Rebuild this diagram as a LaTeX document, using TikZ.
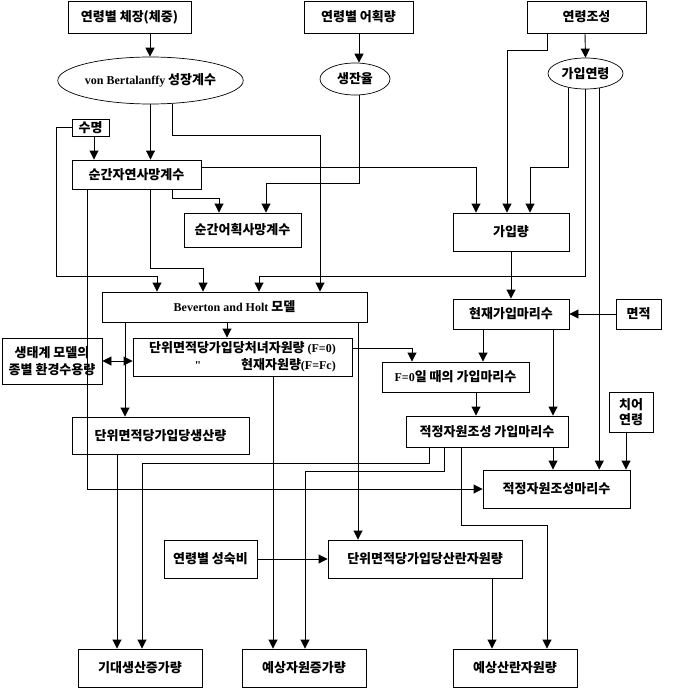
\documentclass[tikz,border=0pt]{standalone}
\usepackage{fontspec}
\setmainfont{Noto Sans CJK KR}
\newfontfamily\latfont{Liberation Serif}
\usetikzlibrary{arrows.meta,shapes.geometric}
\newcommand\kfont{\fontsize{13pt}{16pt}\selectfont\bfseries}
\newcommand\latx[1]{{\latfont\bfseries\fontsize{12pt}{14pt}\selectfont #1}}
\begin{document}
\begin{tikzpicture}[x=1pt,y=-1pt,
  box/.style={draw,line width=0.9pt,inner sep=0pt,align=center,font=\kfont},
  ell/.style={draw,ellipse,line width=0.7pt,inner sep=0pt,font=\kfont},
  arr/.style={line width=0.9pt,-{Triangle[width=9pt,length=9pt]}},
  darr/.style={line width=0.9pt,{Triangle[width=9pt,length=9pt]}-{Triangle[width=9pt,length=9pt]}}]
\useasboundingbox[fill=white] (0,0) rectangle (672,690);

% top row
\node[box,minimum width=123pt,minimum height=32pt] (n1) at (129.5,17) {연령별 체장(체중)};
\node[box,minimum width=109pt,minimum height=32pt] (n2) at (358.5,17) {연령별 어획량};
\node[box,minimum width=119pt,minimum height=32pt] (n3) at (586.5,17) {연령조성};
% ellipses
\node[ell,minimum width=165pt,minimum height=47pt] (e1) at (150.5,80.5) {\latx{von Bertalanffy} 성장계수};
\node[ell,minimum width=70pt,minimum height=32pt] (e2) at (355,79) {생잔율};
\node[ell,minimum width=75pt,minimum height=31pt] (e3) at (585.5,73.5) {가입연령};
% boxes
\node[box,minimum width=37pt,minimum height=17pt] (sm) at (90.5,127.5) {수명};
\node[box,minimum width=129pt,minimum height=29pt] (snj) at (136.5,174.5) {순간자연사망계수};
\node[box,minimum width=117pt,minimum height=34pt] (sne) at (242.5,230) {순간어획사망계수};
\node[box,minimum width=116pt,minimum height=38pt] (gaib) at (511,232) {가입량};
\node[box,minimum width=265pt,minimum height=30pt] (bh) at (234.5,307) {\latx{Beverton and Holt} 모델};
\node[box,minimum width=116pt,minimum height=30pt] (hj) at (511,314) {현재가입마리수};
\node[box,minimum width=45pt,minimum height=30pt] (mj) at (638.5,314) {면적};
\node[box,minimum width=219pt,minimum height=38pt,align=right,font=\fontsize{13pt}{17pt}\selectfont\bfseries] (cn) at (242.5,357)
  {단위면적당가입당처녀자원량 \latx{(F=0)}\\\latx{"}\hspace{40pt}현재자원량\latx{(F=Fc)}};
\node[box,minimum width=100pt,minimum height=46pt,font=\fontsize{13pt}{17pt}\selectfont\bfseries] (st) at (52,361) {생태계 모델의\\종별 환경수용량};
\node[box,minimum width=177pt,minimum height=37pt] (ss) at (160.5,435.5) {단위면적당가입당생산량};
\node[box,minimum width=147pt,minimum height=30pt] (f0) at (455.5,377) {\latx{F=0}일 때의 가입마리수};
\node[box,minimum width=162pt,minimum height=31pt] (jg) at (487,431.5) {적정자원조성 가입마리수};
\node[box,minimum width=44pt,minimum height=40pt,font=\fontsize{13pt}{15pt}\selectfont\bfseries] (cy) at (631,412) {치어\\연령};
\node[box,minimum width=147pt,minimum height=38pt] (jm) at (556.5,489) {적정자원조성마리수};
\node[box,minimum width=93pt,minimum height=38pt] (sb) at (210.5,559) {연령별 성숙비};
\node[box,minimum width=194pt,minimum height=38pt] (sr) at (425,559) {단위면적당가입당산란자원량};
\node[box,minimum width=124pt,minimum height=38pt] (gd) at (140,668) {기대생산증가량};
\node[box,minimum width=124pt,minimum height=38pt] (yj) at (304,668) {예상자원증가량};
\node[box,minimum width=124pt,minimum height=38pt] (ys) at (515,668) {예상산란자원량};

% connectors
\draw[arr] (n1.south -| 150,0) -- (e1.north -| 150,0);
\draw[arr] (n2.south -| 359,0) -- (e2.north -| 359,0);
\draw[arr] (n3.south -| 585,0) -- (e3.north);
\draw[arr] (n3.south -| 547,0) |- (507,50) -- (gaib.north -| 507,0);
\draw[arr] (e3.220) |- (530,167) -- (gaib.north -| 530,0);
\draw[arr] (e3.south) |- (259,276) -- (bh.north -| 259,0);
\draw[arr] (e3.313) -- (jm.north -| e3.313);
\draw[arr] (e1.south) -- (snj.north -| e1.south);
\draw[arr] (e1.313.45) |- (320,135) -- (bh.north -| 320,0);
\draw[arr] (e2.south -| 359,0) |- (266,183) -- (sne.north -| 266,0);
\draw[arr] (sm.south -| 94,0) -- (snj.north -| 94,0);
\draw[arr] (sm.west) -| (56,276) -| (bh.north -| 157,0);
\draw[arr] (snj.east |- 0,167) -| (gaib.north -| 476,0);
\draw[arr] (snj.south -| 172,0) |- (219,198) -- (sne.north -| 219,0);
\draw[arr] (snj.south -| 150,0) |- (203,268) -- (bh.north -| 203,0);
\draw[arr] (snj.south -| 87,0) |- (jm.west);
\draw[arr] (gaib.south) -- (hj.north);
\draw[arr] (mj.west) -- (hj.east);
\draw[arr] (bh.south -| 227,0) -- (cn.north -| 227,0);
\draw[arr] (bh.south -| 125,0) -- (ss.north -| 125,0);
\draw[arr] (bh.south -| 358,0) -- (sr.north -| 358,0);
\draw[darr] (st.east |- 0,361) -- (cn.west |- 0,361);
\draw[arr] (cn.east |- 0,348) -| (f0.north -| 412,0);
\draw[arr] (cn.south -| 273,0) -- (yj.north -| 273,0);
\draw[arr] (hj.south -| 483,0) -- (f0.north -| 483,0);
\draw[arr] (hj.south -| 553,0) -- (jg.north -| 553,0);
\draw[arr] (f0.south -| 476,0) -- (jg.north -| 476,0);
\draw[arr] (jg.south -| 553,0) -- (jm.north -| 553,0);
\draw[arr] (jg.south -| 429,0) |- (142,463) -- (gd.north -| 142,0);
\draw[arr] (jg.south -| 444,0) |- (305,471) -- (yj.north -| 305,0);
\draw[arr] (jg.south -| 461,0) |- (547,525) -- (ys.north -| 547,0);
\draw[arr] (cy.south -| 626,0) -- (jm.north -| 626,0);
\draw[arr] (sb.east) -- (sr.west);
\draw[arr] (sr.south -| 492,0) -- (ys.north -| 492,0);
\draw[arr] (ss.south -| 117,0) -- (gd.north -| 117,0);
\end{tikzpicture}
\end{document}
